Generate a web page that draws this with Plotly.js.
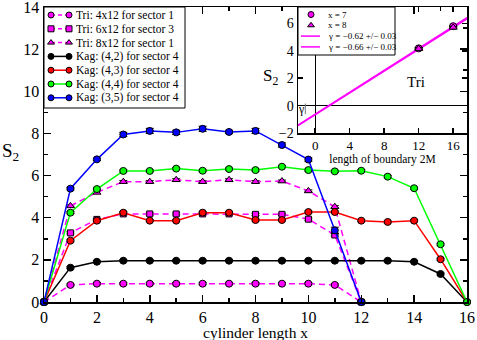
<!DOCTYPE html>
<html><head><meta charset="utf-8">
<script src="https://cdn.plot.ly/plotly-3.0.1.min.js"></script>
<style>html,body{margin:0;padding:0;background:#fff}#chart{width:477px;height:340px}</style>
</head><body><div id="chart"></div>
<script>
// ---------------- data ----------------
var xTri = [0,1,2,3,4,5,6,7,8,9,10,11,12];
var tri4x12 = [0,0.81,0.87,0.87,0.87,0.87,0.87,0.87,0.87,0.87,0.87,0.81,0];
var tri6x12 = [0,3.28,3.92,4.18,4.18,4.18,4.18,4.18,4.16,4.16,3.93,3.18,0];
var tri8x12 = [0,4.56,5.20,5.71,5.71,5.80,5.71,5.80,5.71,5.74,5.27,4.52,0];
var xKag = [0,1,2,3,4,5,6,7,8,9,10,11,12,13,14,15,16];
var kag42 = [0,1.63,1.91,1.96,1.96,1.96,1.96,1.96,1.96,1.96,1.96,1.96,1.96,1.96,1.91,1.33,0];
var kag43 = [0,2.91,3.86,4.24,3.86,3.86,4.24,4.24,3.89,3.89,4.27,4.27,3.86,3.80,3.86,2.03,0];
var kag44 = [0,4.24,5.36,6.22,6.22,6.33,6.23,6.31,6.26,6.42,6.26,6.20,6.23,5.95,5.40,2.74,0];
var xKag35 = [0,1,2,3,4,5,6,7,8,9,10,11,12];
var kag35 = [0,5.38,6.77,7.95,8.12,8.05,8.22,8.07,8.12,7.45,6.76,3.40,0];
var kag35Err = [0,0.06,0.06,0.10,0.12,0.10,0.12,0.08,0.12,0.10,0.08,0.15,0];
var smallErr = 0.05;

var seriesNames = ['Tri: 4x12 for sector 1','Tri: 6x12 for sector 3','Tri: 8x12 for sector 1',
  'Kag: (4,2) for sector 4','Kag: (4,3) for sector 4','Kag: (4,4) for sector 4','Kag: (3,5) for sector 4'];

// inset
var boundaryL = [12,16];
var insetX7 = [4.18,5.80];
var insetX8 = [4.16,5.71];
var fitL = [-2,17.6];
var fitGamma062 = [-1.42,6.42];
var fitGamma066 = [-1.46,6.34];
var insetNames = ['x = 7','x = 8','\u03b3 = \u22120.62 +/\u2212 0.03','\u03b3 = \u22120.66 +/\u2212 0.03'];

// ---------------- styles ----------------
var FONT = 'Liberation Serif, Times New Roman, serif';
var MAG = '#ff00ff', BLK = '#000000', RED = '#ff0000', GRN = '#00ff00', BLU = '#0000ff';
var DASH = '6px,4px';
function mk(sym, col, sz){ return {symbol:sym, size:sz || 7, color:col, line:{color:'#000', width:1}}; }

var styles = [
  {color:MAG, dash:DASH, sym:'circle', size:7},
  {color:MAG, dash:DASH, sym:'square', size:6},
  {color:MAG, dash:DASH, sym:'triangle-up', size:7},
  {color:BLK, dash:'solid', sym:'circle', size:7},
  {color:RED, dash:'solid', sym:'circle', size:7},
  {color:GRN, dash:'solid', sym:'circle', size:7},
  {color:BLU, dash:'solid', sym:'circle', size:7}
];
var xs = [xTri, xTri, xTri, xKag, xKag, xKag, xKag35];
var ys = [tri4x12, tri6x12, tri8x12, kag42, kag43, kag44, kag35];

var traces = [];
for (var i = 0; i < ys.length; i++) {
  var s = styles[i];
  traces.push({
    type:'scatter', mode:'lines+markers', x: xs[i], y: ys[i], name: seriesNames[i],
    xaxis:'x', yaxis:'y', cliponaxis:false,
    line:{color:s.color, width:1.5, dash:s.dash},
    marker: mk(s.sym, s.color, s.size),
    error_y: i === 6 ? {type:'data', array:kag35Err, color:'#000', thickness:1, width:4}
                     : {type:'constant', value:smallErr, color:'#000', thickness:1, width:4}
  });
}

// inset traces
traces.push({type:'scatter', mode:'lines', x:fitL, y:fitGamma062, xaxis:'x2', yaxis:'y2', line:{color:MAG, width:1.5}, name:insetNames[2]});
traces.push({type:'scatter', mode:'lines', x:fitL, y:fitGamma066, xaxis:'x2', yaxis:'y2', line:{color:MAG, width:1.5}, name:insetNames[3]});
traces.push({type:'scatter', mode:'markers', x:boundaryL, y:insetX7, xaxis:'x2', yaxis:'y2', marker:mk('circle', MAG), name:insetNames[0],
  error_y:{type:'constant', value:0.06, color:'#000', thickness:1, width:4}});
traces.push({type:'scatter', mode:'markers', x:boundaryL, y:insetX8, xaxis:'x2', yaxis:'y2', marker:mk('triangle-up', MAG), name:insetNames[1],
  error_y:{type:'constant', value:0.06, color:'#000', thickness:1, width:4}});

// ---------------- custom legends (pixel axis x3/y3) ----------------
var PL = 44, PR = 467, PT = 7, PB = 302;
var shapes = [], annotations = [];
function buildLegend(box, items) {
  shapes.push({type:'rect', xref:'x3', yref:'y3', x0:box.x0, x1:box.x1, y0:box.y0, y1:box.y1,
    line:{color:'#000', width:1}, fillcolor:'#fff', layer:'below'});
  items.forEach(function(it, k){
    var yy = box.row0 + k*box.pitch;
    var tr;
    if (it.line) {
      tr = {type:'scatter', mode: it.sym ? 'lines+markers' : 'lines', x:[box.keyX0, box.keyX1], y:[yy, yy],
        xaxis:'x3', yaxis:'y3', cliponaxis:false, hoverinfo:'skip', showlegend:false,
        line:{color:it.color, width:1.5, dash:it.dash || 'solid'}};
      if (it.sym) tr.marker = {symbol:it.sym, size:box.msize, color:it.color, line:{color:'#000', width:1}};
    } else {
      tr = {type:'scatter', mode:'markers', x:[box.markX], y:[yy], xaxis:'x3', yaxis:'y3', cliponaxis:false,
        hoverinfo:'skip', showlegend:false, marker:{symbol:it.sym, size:box.msize, color:it.color, line:{color:'#000', width:1}}};
    }
    traces.push(tr);
    annotations.push({xref:'x3', yref:'y3', x:box.textX, y:yy, xanchor:'left', yanchor:'middle', showarrow:false,
      text: it.name, font:{family:FONT, size:box.font, color:'#000'}});
  });
}
var mainItems = styles.map(function(s, i){ return {name:seriesNames[i], color:s.color, dash:s.dash === DASH ? '4px,3px' : 'solid', sym:s.sym, line:true}; });
buildLegend({x0:PL, x1:185, y0:PT, y1:108, keyX0:51, keyX1:69, textX:74, row0:15, pitch:13.8, font:11.5, msize:6}, mainItems);
buildLegend({x0:298, x1:395, y0:PT, y1:55, keyX0:301, keyX1:320, markX:311, textX:326, row0:14.5, pitch:10.8, font:9, msize:6}, [
  {name:insetNames[0], color:MAG, sym:'circle', line:false},
  {name:insetNames[1], color:MAG, sym:'triangle-up', line:false},
  {name:insetNames[2], color:MAG, line:true},
  {name:insetNames[3], color:MAG, line:true}
]);

// axis titles and other text
annotations.push({xref:'paper', yref:'paper', x:(256-PL)/(PR-PL), y:(PB-332.5)/(PB-PT), showarrow:false, xanchor:'center', yanchor:'middle',
  text:'cylinder length x', font:{family:FONT, size:15.5, color:'#000'}});
annotations.push({xref:'paper', yref:'paper', x:(10-PL)/(PR-PL), y:(PB-152)/(PB-PT), showarrow:false, xanchor:'center', yanchor:'middle',
  text:'S<sub>2</sub>', font:{family:FONT, size:19, color:'#000'}});
annotations.push({xref:'paper', yref:'paper', x:(270-PL)/(PR-PL), y:(PB-77)/(PB-PT), showarrow:false, xanchor:'center', yanchor:'middle',
  text:'S<sub>2</sub>', font:{family:FONT, size:17, color:'#000'}});
annotations.push({xref:'x2', yref:'y2', x:11.7, y:1.75, showarrow:false, text:'Tri', font:{family:FONT, size:15, color:'#000'}});
annotations.push({xref:'x2', yref:'y2', x:-1.62, y:-0.28, showarrow:false, text:'\u03b3', font:{family:FONT, size:12, color:'#000'}});
shapes.push({type:'line', xref:'x2', yref:'y2', x0:-1.15, x1:-1.15, y0:0.15, y1:-0.62, line:{color:'#777', width:1}});

function ax(o){
  var base = {showgrid:false, zeroline:false, showline:true, linecolor:'#000', linewidth:1.5, mirror:'ticks',
    ticks:'inside', tickcolor:'#000', tickwidth:1.5, ticklen:7, ticklabeloverflow:'allow',
    tickfont:{family:FONT, size:16, color:'#000'}};
  for (var k in o) base[k] = o[k];
  return base;
}

var layout = {
  width:477, height:340, margin:{l:PL, r:477-PR, t:PT, b:340-PB, pad:0},
  paper_bgcolor:'#fff', plot_bgcolor:'rgba(0,0,0,0)', showlegend:false,
  font:{family:FONT, color:'#000'},
  xaxis: ax({domain:[0,1], range:[0,16], tick0:0, dtick:2, anchor:'y',
    minor:{dtick:1, ticks:'inside', ticklen:4, tickcolor:'#000', tickwidth:1.5, showgrid:false}}),
  yaxis: ax({domain:[0,1], range:[0,14], tick0:0, dtick:2, anchor:'x',
    minor:{dtick:1, ticks:'inside', ticklen:4, tickcolor:'#000', tickwidth:1.5, showgrid:false}}),
  xaxis2: ax({domain:[(298-PL)/(PR-PL), 1], range:[-2,17.6], tick0:0, dtick:4, anchor:'y2', ticklen:5,
    tickfont:{family:FONT, size:13, color:'#000'},
    zeroline:true, zerolinecolor:'#000', zerolinewidth:1,
    title:{text:'length of boundary 2M', font:{family:FONT, size:11.5}, standoff:2}}),
  yaxis2: ax({domain:[(PB-133)/(PB-PT), 1], range:[-2,7.2], tick0:0, dtick:2, anchor:'x2', ticklen:5,
    tickfont:{family:FONT, size:14, color:'#000'},
    zeroline:true, zerolinecolor:'#000', zerolinewidth:1}),
  xaxis3: {domain:[0,1], range:[PL, PR], visible:false, anchor:'y3', fixedrange:true},
  yaxis3: {domain:[0,1], range:[PB, PT], visible:false, anchor:'x3', fixedrange:true},
  shapes: shapes, annotations: annotations
};

Plotly.newPlot('chart', traces, layout, {staticPlot:true, displayModeBar:false});
</script>
</body></html>
